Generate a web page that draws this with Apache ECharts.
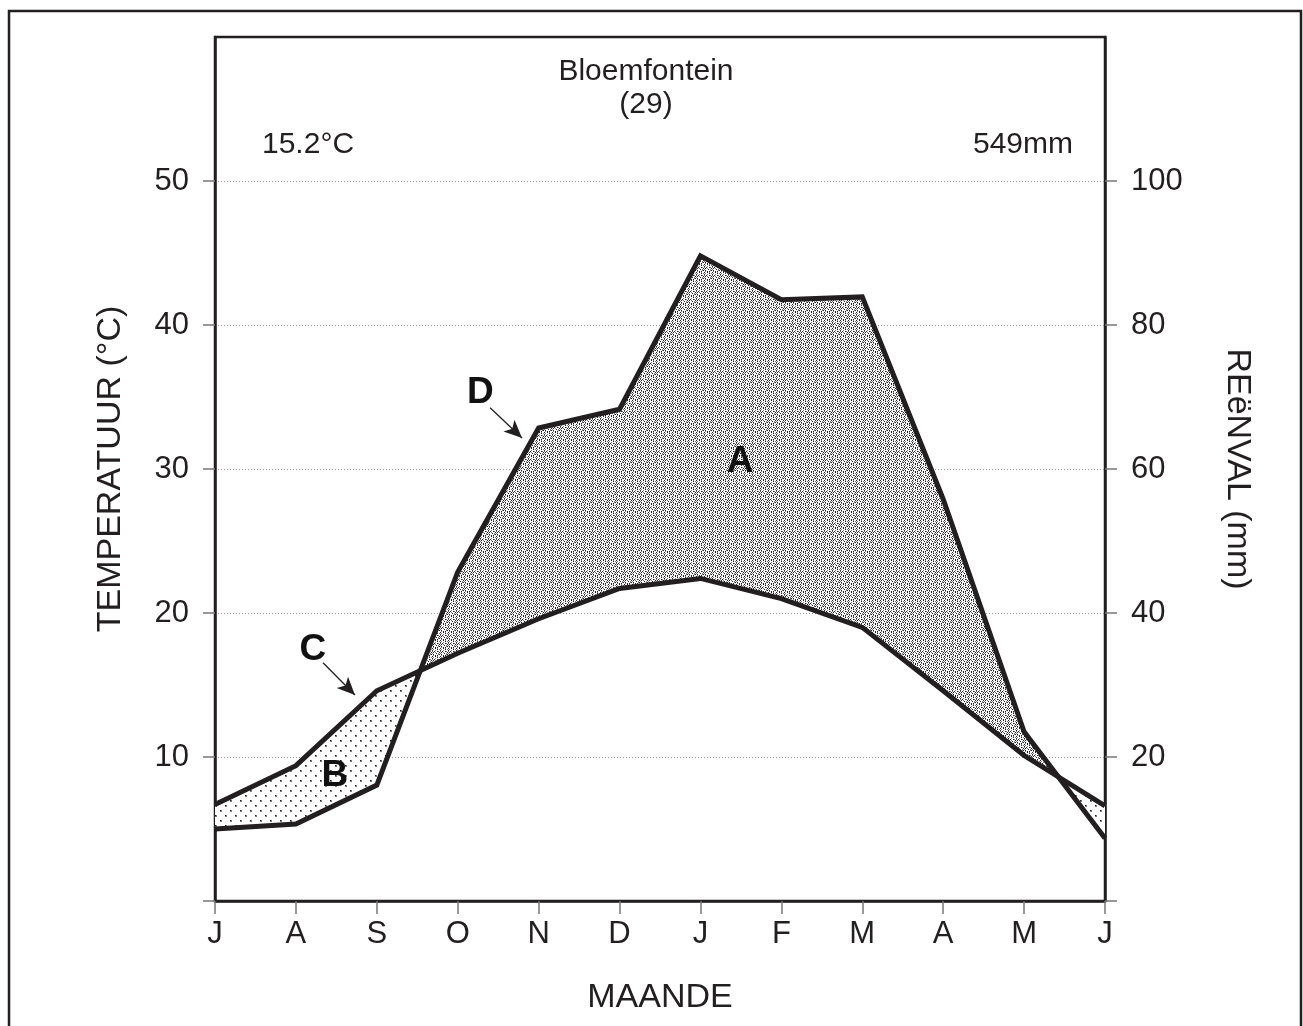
<!DOCTYPE html>
<html>
<head>
<meta charset="utf-8">
<script src="https://cdn.jsdelivr.net/npm/echarts@6/dist/echarts.min.js"></script>
<style>
  html, body { margin: 0; padding: 0; background: #fff; }
  #chart { width: 1303px; height: 1026px; }
</style>
</head>
<body>
<div id="chart"></div>
<script>
// maande (Julie tot Junie)
const months = ['J', 'A', 'S', 'O', 'N', 'D', 'J', 'F', 'M', 'A', 'M', 'J'];
// temperatuur (°C) - linker as
const temperature = [6.7, 9.4, 14.6, 17.2, 19.6, 21.7, 22.4, 21.0, 19.0, 14.6, 10.1, 6.6];
// reënval (mm) - regter as
const rainfall = [10.0, 10.7, 16.1, 45.7, 65.7, 68.3, 89.6, 83.5, 83.9, 55.8, 23.5, 8.7];
const tempTicks = [10, 20, 30, 40, 50];
const rainTicks = [20, 40, 60, 80, 100];
// annotasies: [maand-indeks, reënval-waarde, letter]
const letters = [[6.49, 61, 'A'], [1.48, 17.4, 'B'], [1.21, 34.9, 'C'], [3.28, 70.6, 'D']];
const arrowC = [[1.335, 33.1], [1.73, 28.6]];
const arrowD = [[3.40, 68.5], [3.795, 64.3]];

const ink = '#231f20';
const font = '"Liberation Sans", Arial, Helvetica, sans-serif';

// stippelpatrone
function makePattern(rows) {
    const c = document.createElement('canvas');
    c.width = rows[0].length;
    c.height = rows.length;
    const ctx = c.getContext('2d');
    ctx.fillStyle = '#fff';
    ctx.fillRect(0, 0, c.width, c.height);
    rows.forEach(function (row, y) {
        for (let x = 0; x < row.length; x++) {
            if (row[x] === 'x') ctx.fillStyle = '#1e1e1e';
            else if (row[x] === 'o') ctx.fillStyle = '#7a7a7a';
            else continue;
            ctx.fillRect(x, y, 1, 1);
        }
    });
    return c;
}
const densePattern = makePattern([
    'x..x.o..',
    '.o...x.o',
    'x..o....',
    'o.x..xo.',
    '.x.o...x',
    'o...x.o.',
    '.x....ox',
    '.o.x.x..'
]);
const sparsePattern = makePattern([
    'xo........',
    'oo........',
    '..........',
    '..........',
    '..........',
    '.....xo...',
    '.....oo...',
    '..........',
    '..........',
    '..........'
]);

const chart = echarts.init(document.getElementById('chart'));

function renderBands(params, api) {
    const polys = [];
    let top = [], bot = [], sign = 0;
    function close() {
        if (top.length > 1) {
            polys.push({
                type: 'polygon',
                shape: { points: top.concat(bot.slice().reverse()) },
                style: { fill: { image: sign > 0 ? densePattern : sparsePattern, repeat: 'repeat' }, stroke: null }
            });
        }
    }
    for (let i = 0; i < months.length; i++) {
        const d = rainfall[i] - temperature[i] * 2;
        const s = d >= 0 ? 1 : -1;
        const r = api.coord([i, rainfall[i]]);
        const t = api.coord([i, temperature[i] * 2]);
        if (i > 0 && s !== sign) {
            const dPrev = rainfall[i - 1] - temperature[i - 1] * 2;
            const f = dPrev / (dPrev - d);
            const xv = i - 1 + f;
            const yv = rainfall[i - 1] + (rainfall[i] - rainfall[i - 1]) * f;
            const x = api.coord([xv, yv]);
            top.push(x); bot.push(x);
            close();
            top = [x]; bot = [x];
        }
        sign = s;
        top.push(r); bot.push(t);
    }
    close();
    return { type: 'group', children: polys };
}

const axisLabelStyle = { color: ink, fontSize: 31, fontFamily: font };
const axisNameStyle = { color: ink, fontSize: 34, fontFamily: font };

chart.setOption({
    animation: false,
    backgroundColor: '#fff',
    grid: {
        left: 215, right: 198, top: 37, bottom: 125,
        show: true, borderColor: ink, borderWidth: 2.5, backgroundColor: '#fff'
    },
    xAxis: {
        type: 'value', min: 0, max: 11, interval: 1,
        name: 'MAANDE', nameLocation: 'middle', nameGap: 80, nameTextStyle: axisNameStyle,
        axisLine: { show: true, onZero: false, lineStyle: { color: ink, width: 2.5 } },
        axisTick: { show: true, length: 13, lineStyle: { color: '#777', width: 1.5 } },
        axisLabel: Object.assign({ margin: 18, formatter: function (v) { return months[v]; } }, axisLabelStyle),
        splitLine: { show: false }
    },
    yAxis: [{
        type: 'value', min: 0, max: 60, interval: 10, position: 'left',
        name: 'TEMPERATUUR (°C)', nameLocation: 'middle', nameGap: 87, nameRotate: 90,
        nameTextStyle: axisNameStyle,
        axisLine: { show: true, lineStyle: { color: ink, width: 2.5 } },
        axisTick: { show: true, length: 12, customValues: [0].concat(tempTicks), lineStyle: { color: '#777', width: 1.5 } },
        axisLabel: Object.assign({ margin: 26, customValues: tempTicks }, axisLabelStyle),
        splitLine: { show: true, lineStyle: { color: '#999', width: 1, type: [1, 2] } }
    }, {
        type: 'value', min: 0, max: 120, interval: 20, position: 'right',
        name: 'REëNVAL (mm)', nameLocation: 'middle', nameGap: 115, nameRotate: -90,
        nameTextStyle: axisNameStyle,
        axisLine: { show: true, lineStyle: { color: ink, width: 2.5 } },
        axisTick: { show: true, length: 12, customValues: [0].concat(rainTicks), lineStyle: { color: '#777', width: 1.5 } },
        axisLabel: Object.assign({ margin: 26, customValues: rainTicks }, axisLabelStyle),
        splitLine: { show: false }
    }],
    graphic: [
        { type: 'rect', shape: { x: 9, y: 11, width: 1292, height: 1040 }, style: { fill: null, stroke: ink, lineWidth: 2.5 }, z: 100, silent: true },
        { type: 'text', x: 646, y: 72, style: { text: 'Bloemfontein', fill: ink, font: '30px ' + font, textAlign: 'center', textVerticalAlign: 'middle' } },
        { type: 'text', x: 646, y: 105, style: { text: '(29)', fill: ink, font: '30px ' + font, textAlign: 'center', textVerticalAlign: 'middle' } },
        { type: 'text', x: 262, y: 145, style: { text: '15.2°C', fill: ink, font: '30px ' + font, textAlign: 'left', textVerticalAlign: 'middle' } },
        { type: 'text', x: 1073, y: 145, style: { text: '549mm', fill: ink, font: '30px ' + font, textAlign: 'right', textVerticalAlign: 'middle' } }
    ],
    series: [{
        type: 'custom',
        xAxisIndex: 0, yAxisIndex: 1,
        data: [[0, 0]],
        renderItem: renderBands,
        silent: true,
        z: 1
    }, {
        name: 'Temperatuur',
        type: 'line',
        yAxisIndex: 0,
        data: temperature.map(function (v, i) { return [i, v]; }),
        showSymbol: false,
        lineStyle: { color: ink, width: 5, join: 'miter' },
        z: 3
    }, {
        name: 'Reënval',
        type: 'line',
        yAxisIndex: 1,
        data: rainfall.map(function (v, i) { return [i, v]; }),
        showSymbol: false,
        lineStyle: { color: ink, width: 5, join: 'miter' },
        z: 3
    }, {
        type: 'scatter',
        yAxisIndex: 1,
        data: letters,
        symbolSize: 0,
        silent: true,
        z: 4,
        itemStyle: { opacity: 1, color: ink },
        label: {
            show: true, position: 'inside',
            formatter: function (p) { return p.data[2]; },
            color: '#111', opacity: 1, fontSize: 37, fontWeight: 'bold', fontFamily: font,
            textBorderWidth: 0
        },
        markLine: {
            silent: true,
            animation: false,
            symbol: ['none', 'arrow'],
            symbolSize: [12, 18],
            label: { show: false },
            lineStyle: { color: ink, width: 1.3, type: 'solid', opacity: 1 },
            itemStyle: { color: ink },
            data: [
                [{ coord: arrowC[0] }, { coord: arrowC[1] }],
                [{ coord: arrowD[0] }, { coord: arrowD[1] }]
            ]
        }
    }]
});
</script>
</body>
</html>
